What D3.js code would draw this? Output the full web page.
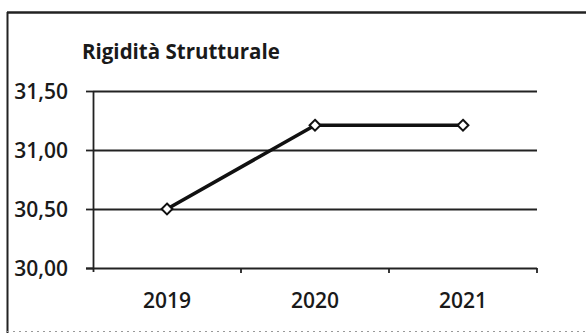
<!DOCTYPE html>
<html>
<head>
<meta charset="utf-8">
<script src="https://cdn.jsdelivr.net/npm/d3@7"></script>
<style>
  html, body { margin: 0; padding: 0; background: #fff; }
  svg { display: block; }
  text { font-family: "Open Sans", Lato, "Liberation Sans", sans-serif; fill: #1a1a1a; }
</style>
</head>
<body>
<svg id="chart" width="586" height="333"></svg>
<script>
// Rigidità strutturale per anno
const titleText = "Rigidità Strutturale";
const years = ["2019", "2020", "2021"];
const values = [30.50, 31.21, 31.21];
const yTicks = [30.00, 30.50, 31.00, 31.50];

const W = 586, H = 333;
const plot = { left: 93, right: 537, top: 91, bottom: 268 };

const svg = d3.select("#chart");

// outer frame
svg.append("line").attr("x1", 7).attr("x2", W).attr("y1", 12.5).attr("y2", 12.5)
  .attr("stroke", "#222").attr("stroke-width", 2.4);
svg.append("line").attr("x1", 7.5).attr("x2", 7.5).attr("y1", 12).attr("y2", H)
  .attr("stroke", "#222").attr("stroke-width", 2);
svg.append("line").attr("x1", 7).attr("x2", W).attr("y1", 331.5).attr("y2", 331.5)
  .attr("stroke", "#999").attr("stroke-width", 1).attr("stroke-dasharray", "2,4");

// title
svg.append("text").attr("x", 82).attr("y", 59)
  .attr("font-size", 20.5).attr("font-weight", "bold")
  .text(titleText);

const x = d3.scaleBand().domain(years).range([plot.left, plot.right]);
const y = d3.scaleLinear().domain([30, 31.5]).range([plot.bottom, plot.top]);

// horizontal gridlines
svg.append("g").selectAll("line").data(yTicks.slice(1)).join("line")
  .attr("x1", plot.left).attr("x2", plot.right)
  .attr("y1", d => Math.round(y(d)) + 0.5).attr("y2", d => Math.round(y(d)) + 0.5)
  .attr("stroke", "#222").attr("stroke-width", 1.8);

// y axis
const yAxis = d3.axisLeft(y).tickValues(yTicks).tickSize(7).tickPadding(18)
  .tickFormat(d => d3.format(".2f")(d).replace(".", ","));
const gy = svg.append("g").attr("transform", `translate(${plot.left},0)`).call(yAxis);
gy.select(".domain").attr("stroke", "#222").attr("stroke-width", 1.8)
  .attr("d", `M0.5,${plot.top}V${plot.bottom + 4}`);
gy.selectAll(".tick line").attr("stroke", "#222").attr("stroke-width", 1.8);
gy.selectAll(".tick text").attr("font-size", 21).attr("font-weight", 600).attr("fill", "#1a1a1a")
  .attr("font-family", "'Open Sans', Lato, sans-serif").attr("dy", "0.34em");

// x axis with tick marks at category boundaries
const gx = svg.append("g").attr("transform", `translate(0,${plot.bottom})`);
gx.append("line").attr("x1", plot.left - 7).attr("x2", plot.right)
  .attr("y1", 0.5).attr("y2", 0.5).attr("stroke", "#222").attr("stroke-width", 1.8);
const bounds = years.map(d => x(d)).concat([x(years[years.length - 1]) + x.bandwidth()]);
gx.selectAll("line.tk").data(bounds.slice(1)).join("line").attr("class", "tk")
  .attr("x1", d => d).attr("x2", d => d).attr("y1", 0).attr("y2", 5)
  .attr("stroke", "#222").attr("stroke-width", 1.8);
gx.selectAll("text").data(years).join("text")
  .attr("x", d => x(d) + x.bandwidth() / 2).attr("y", 40)
  .attr("text-anchor", "middle").attr("font-size", 21).attr("font-weight", 600)
  .text(d => d);

// series line
const line = d3.line().x((d, i) => x(years[i]) + x.bandwidth() / 2).y(d => y(d));
svg.append("path").datum(values).attr("d", line)
  .attr("fill", "none").attr("stroke", "#111").attr("stroke-width", 3.6)
  .attr("stroke-linejoin", "round");

// diamond markers
const sym = d3.symbol().type(d3.symbolDiamond2).size(75);
svg.append("g").selectAll("path").data(values).join("path")
  .attr("transform", (d, i) => `translate(${x(years[i]) + x.bandwidth() / 2},${y(d)})`)
  .attr("d", sym)
  .attr("fill", "#fff").attr("stroke", "#111").attr("stroke-width", 2);
</script>
</body>
</html>
